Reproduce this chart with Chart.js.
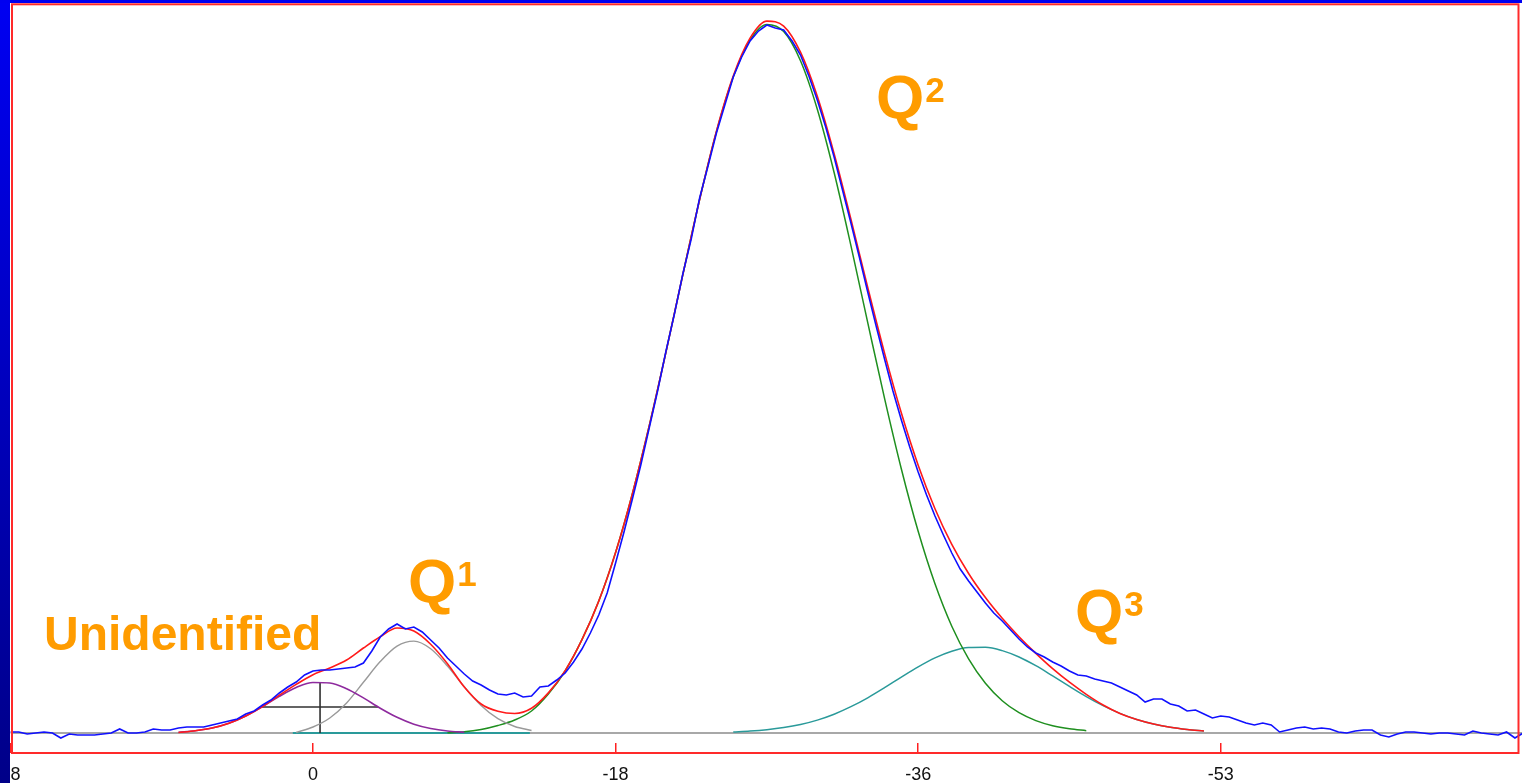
<!DOCTYPE html>
<html>
<head>
<meta charset="utf-8">
<title>29Si NMR deconvolution</title>
<script src="https://cdn.jsdelivr.net/npm/chart.js@4.4.1/dist/chart.umd.min.js"></script>
<style>
  html, body { margin: 0; padding: 0; background: #0000c8; overflow: hidden; }
  canvas { display: block; }
</style>
</head>
<body>
<canvas id="spectrum" width="1522" height="783"></canvas>
<script>
// chemical shift axis (ppm), high shift on the left
const shiftMax = 18;
const shiftMin = -71.92;
const tickValues = [18, 0, -18, -36, -54];
const tickLabels = ["18", "0", "-18", "-36", "-53"];

// measured spectrum, one value every 0.5 ppm from 18 down to -72
const measuredStart = 18;
const measuredStep = -0.5;
const measured = [
  1, 1, -1, 0, 1, 0, -5, -1, -2, -2,
  -2, -1, 0, 4, 0, 0, 1, 4, 3, 3,
  5, 6, 6, 6, 8, 10, 12, 14, 19, 22,
  28, 33, 40, 46, 51, 58, 62, 63, 63, 64,
  65, 66, 70, 82, 96, 104, 109, 104, 106, 101,
  93, 85, 75, 67, 59, 52, 48, 43, 39, 38,
  40, 36, 37, 46, 47, 53, 60, 71, 84, 100,
  118, 140, 170, 201, 234, 268, 305, 342, 382, 419,
  459, 494, 535, 567, 600, 628, 656, 676, 692, 702,
  708, 705, 703, 692, 678, 657, 633, 606, 576, 543,
  510, 476, 441, 407, 374, 342, 313, 286, 261, 238,
  217, 198, 180, 164, 152, 141, 130, 120, 112, 103,
  94, 86, 80, 76, 71, 67, 62, 58, 57, 54,
  52, 50, 46, 42, 38, 31, 34, 34, 29, 27,
  22, 23, 19, 15, 17, 16, 13, 10, 8, 10,
  8, 1, 3, 5, 6, 4, 5, 4, 1, 0,
  2, 3, 3, -2, -4, -1, 1, 1, 0, -1,
  0, 0, -1, -2, 2, 0, -1, -2, 1, -5,
  0
];

// fitted envelope, every 1 ppm from 8 to -53
const fitStart = 8;
const fit = [
  0.5, 2.3, 5.0, 9.8, 17.0, 26.4, 37.8, 48.6, 58.3, 65,
  73, 85, 96.2, 105, 102, 88.8, 69.3, 46, 29, 21.8,
  19.5, 24.7, 40.1, 62.4, 93.3, 131.9, 180.5, 239.3, 307.0, 381.2,
  458.3, 533.5, 601.9, 657.0, 694.8, 711.9, 706.9, 680.8, 636.7, 579.3,
  513.7, 445.6, 379.9, 319.9, 267.8, 224.3, 188.6, 159.5, 135.4, 114.7,
  96.3, 79.7, 64.4, 50.8, 38.7, 28, 19.6, 13.5, 9.0, 5.7,
  3.5, 2.0
];

// fitted components, every 1 ppm
const unidentifiedStart = 8;
const unidentified = [0.8, 2.3, 5.0, 9.8, 17.0, 26.4, 36.7, 45.5, 50.5, 50.0,
  44.3, 35.1, 24.8, 15.7, 8.8, 4.5, 2.0, 0.8];

const q1Start = 1;
const q1 = [0.5, 6, 15, 30, 50.7, 71.4, 86.9, 91.9, 84.3, 67.0, 46.2, 27.6, 14.3, 6.5, 2.5];

const q2Start = -8;
const q2 = [0.3, 1.2, 3.5, 7.5, 13, 22, 39, 62, 93.3, 131.9,
  180.5, 239.3, 307.0, 381.2, 458.3, 533.5, 601.3, 656.0, 692.9, 708.6,
  701.5, 672.3, 623.8, 560.5, 487.4, 410.4, 334.6, 264.0, 201.7, 149.2,
  106.8, 74.1, 49.7, 32.3, 20.3, 12.4, 7.3, 4.2, 2.3];

const q3Start = -25;
const q3 = [1.0, 1.9, 3.3, 5.4, 8.5, 12.9, 18.8, 26.3, 35.2, 45.3,
  55.9, 66.1, 75.1, 81.8, 85.4, 85.7, 82.4, 76.0, 67.3, 57.1,
  46.6, 36.4, 27.3, 19.6, 13.5, 9.0, 5.7, 3.5, 2.0];

// baseline spans and the half-height cross of the unidentified band
const baselineSpan = [18, -72];
const q1BaseSpan = [1.2, -12.9];
const crossCenter = -0.42;
const crossHeight = 51;
const crossHalfHeight = 26;
const crossHalfSpan = [3.15, -3.87];

const bandLabels = [
  { text: "Unidentified", sup: "", x: 16.0, y: 83, size: 48 },
  { text: "Q", sup: "1", x: -5.65, y: 131, size: 62 },
  { text: "Q", sup: "2", x: -33.49, y: 615, size: 62 },
  { text: "Q", sup: "3", x: -45.33, y: 101, size: 62 },
];

function toPoints(start, step, values) {
  return values.map((v, i) => ({ x: start + i * step, y: v }));
}

function line(label, data, color, width, order, extra) {
  return Object.assign({
    label: label,
    data: data,
    borderColor: color,
    borderWidth: width,
    pointRadius: 0,
    fill: false,
    order: order,
  }, extra || {});
}

const smooth = { cubicInterpolationMode: "monotone" };

const framePlugin = {
  id: "frame",
  beforeDraw(chart) {
    const ctx = chart.ctx;
    ctx.save();
    ctx.fillStyle = "#ffffff";
    ctx.fillRect(0, 0, chart.width, chart.height);
    ctx.restore();
  },
  afterDraw(chart) {
    const ctx = chart.ctx;
    const xs = chart.scales.x;
    const ys = chart.scales.y;
    ctx.save();

    ctx.strokeStyle = "#ff2a2a";
    ctx.lineWidth = 2;
    ctx.strokeRect(12, 4.3, 1506.5, 748.7);

    const g = ctx.createLinearGradient(0, 0, 0, chart.height);
    g.addColorStop(0, "#0000f2");
    g.addColorStop(1, "#000088");
    ctx.fillStyle = g;
    ctx.fillRect(0, 0, 10, chart.height);
    ctx.fillStyle = "#0000f0";
    ctx.fillRect(0, 0, chart.width, 3);

    ctx.fillStyle = "#ff9c00";
    ctx.textBaseline = "alphabetic";
    ctx.textAlign = "left";
    bandLabels.forEach(l => {
      const px = xs.getPixelForValue(l.x);
      const py = ys.getPixelForValue(l.y);
      ctx.font = "bold " + l.size + "px 'Liberation Sans', Arial, sans-serif";
      ctx.fillText(l.text, px, py);
      if (l.sup) {
        const w = ctx.measureText(l.text).width;
        ctx.font = "bold 35px 'Liberation Sans', Arial, sans-serif";
        ctx.fillText(l.sup, px + w + 1, py - 16);
      }
    });
    ctx.restore();
  }
};

new Chart(document.getElementById("spectrum"), {
  type: "line",
  data: {
    datasets: [
      line("Measured", toPoints(measuredStart, measuredStep, measured), "#1010ff", 1.6, 1),
      line("Fit", toPoints(fitStart, -1, fit), "#ff1a1a", 1.6, 2, smooth),
      line("Unidentified", toPoints(unidentifiedStart, -1, unidentified), "#8e2a9e", 1.6, 3, smooth),
      line("Q1", toPoints(q1Start, -1, q1), "#9a9a9a", 1.4, 4, smooth),
      line("Q2", toPoints(q2Start, -1, q2), "#1f8f1f", 1.5, 5, smooth),
      line("Q3", toPoints(q3Start, -1, q3), "#2a9a9a", 1.5, 6, smooth),
      line("Height", [{ x: crossCenter, y: 0 }, { x: crossCenter, y: crossHeight }], "#303030", 1.6, 7),
      line("Width", [{ x: crossHalfSpan[0], y: crossHalfHeight }, { x: crossHalfSpan[1], y: crossHalfHeight }], "#303030", 1.6, 7),
      line("Q1 base", [{ x: q1BaseSpan[0], y: 0 }, { x: q1BaseSpan[1], y: 0 }], "#2a9a9a", 2, 8),
      line("Baseline", [{ x: baselineSpan[0], y: 0 }, { x: baselineSpan[1], y: 0 }], "#a8a8a8", 2, 9),
    ]
  },
  options: {
    responsive: false,
    animation: false,
    devicePixelRatio: 1,
    layout: { padding: { left: 10.4, right: 0, top: 5, bottom: 0 } },
    plugins: {
      legend: { display: false },
      tooltip: { enabled: false },
    },
    scales: {
      x: {
        type: "linear",
        reverse: true,
        min: shiftMin,
        max: shiftMax,
        afterBuildTicks: (scale) => {
          scale.ticks = tickValues.map(v => ({ value: v }));
        },
        afterFit: (scale) => {
          // fixed axis band; the edge labels may run under the page border
          scale.height = 40;
          scale.paddingLeft = 0;
          scale.paddingRight = 0;
        },
        border: { display: false },
        grid: {
          drawOnChartArea: false,
          drawTicks: true,
          tickLength: 10,
          color: "#ff2020",
          lineWidth: 1.5,
        },
        ticks: {
          autoSkip: false,
          maxRotation: 0,
          padding: 11,
          color: "#111111",
          font: { family: "'Liberation Sans', Arial, sans-serif", size: 18 },
          callback: (value) => tickLabels[tickValues.indexOf(value)],
        },
      },
      y: {
        display: false,
        min: -10,
        max: 728,
      },
    },
  },
  plugins: [framePlugin],
});
</script>
</body>
</html>
